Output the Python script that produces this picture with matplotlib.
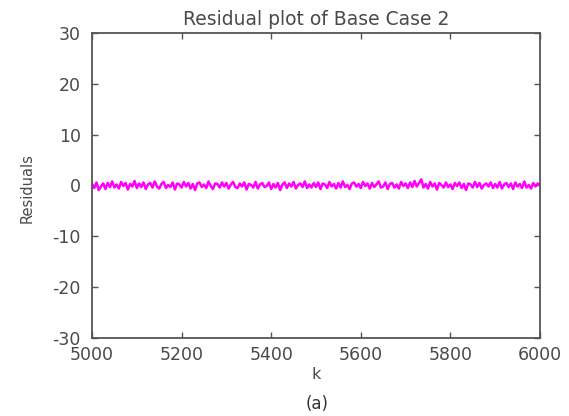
import numpy as np
import matplotlib.pyplot as plt

# residuals, one every 5 samples
k_start, k_stop, k_step = 5000, 6000, 5
residuals = [
    0.3, -0.5, 0.6, -0.9, -0.2, 0.4, -0.7, 0.5, -0.3, 0.8, -0.4, 0.2, -0.6, 0.7, -0.1, 0.5, -0.8, 0.3, -0.2, 0.9,
    -0.5, 0.4, -0.3, 0.6, -0.7, 0.2, 0.5, -0.4, 0.8, -0.2, -0.6, 0.3, 0.7, -0.5, 0.1, -0.3, 0.6, -0.8, 0.4, 0.2,
    -0.4, 0.7, -0.2, 0.5, -0.6, 0.3, -0.9, 0.4, 0.6, -0.3, 0.2, -0.5, 0.8, -0.1, -0.7, 0.4, 0.3, -0.4, 0.6, -0.2,
    0.5, -0.6, 0.2, 0.7, -0.3, -0.5, 0.4, -0.2, 0.6, -0.8, 0.3, 0.1, -0.4, 0.7, -0.6, 0.2, 0.5, -0.3, -0.1, 0.6,
    -0.7, 0.3, -0.4, 0.5, -0.9, 0.2, 0.6, -0.5, 0.4, -0.2, 0.7, -0.6, 0.1, 0.4, -0.3, 0.8, -0.5, 0.2, -0.4, 0.5,
    -0.3, 0.6, -0.7, 0.4, 0.2, -0.5, 0.7, -0.2, 0.3, -0.6, 0.5, -0.4, 0.8, -0.3, 0.1, -0.7, 0.4, 0.6, -0.2, 0.3,
    -0.5, 0.7, -0.1, 0.4, -0.6, 0.5, -0.3, 0.2, 0.8, -0.4, -0.2, 0.6, -0.7, 0.3, 0.5, -0.4, 0.2, -0.6, 0.7, -0.1,
    0.4, -0.5, 0.6, -0.3, 0.9, -0.2, 0.5, 1.2, -0.4, 0.3, -0.6, 0.7, -0.2, 0.4, -0.8, 0.5, 0.1, -0.4, 0.6, -0.3,
    0.2, -0.7, 0.5, -0.1, 0.6, -0.5, 0.3, -0.9, 0.4, 0.2, -0.4, 0.7, -0.3, 0.5, -0.6, 0.1, 0.4, -0.2, 0.6, -0.5,
    0.3, -0.4, 0.7, -0.6, 0.2, 0.5, -0.3, 0.4, -0.7, 0.6, -0.2, 0.3, -0.5, 0.8, -0.4, 0.1, -0.6, 0.5, -0.2, 0.4,
    0.1,
]
x_ticks = [5000, 5200, 5400, 5600, 5800, 6000]
y_ticks = [-30, -20, -10, 0, 10, 20, 30]

k = np.arange(k_start, k_stop + 1, k_step)

plt.rcParams['font.family'] = ['DejaVu Sans']
plt.rcParams['axes.unicode_minus'] = False
axis_col = '#555555'
text_col = '#4a4a4a'

fig = plt.figure(figsize=(5.69, 4.16), dpi=100)
ax = fig.add_axes([0.1617, 0.1875, 0.7873, 0.7332])

ax.plot(k, residuals, color='#ff00ff', lw=1.8)

ax.set_xlim(5000, 6000)
ax.set_ylim(-30, 30)
ax.set_xticks(x_ticks)
ax.set_yticks(y_ticks)
ax.tick_params(direction='in', length=4, width=1, colors=axis_col,
               labelcolor=text_col, labelsize=12.5, top=True, right=True)
ax.tick_params(axis='x', pad=6)
ax.tick_params(axis='y', pad=8)
for s in ax.spines.values():
    s.set_color(axis_col)
    s.set_linewidth(1.3)

ax.set_title('Residual plot of Base Case 2', fontsize=13.5, color=text_col, pad=6)
ax.set_xlabel('k', fontsize=11.5, color=text_col, labelpad=2)
ax.set_ylabel('Residuals', fontsize=10.5, color=text_col)
ax.yaxis.set_label_coords(-0.128, 0.49)

fig.text(0.557, 0.03, '(a)', fontsize=12, color='#333333', ha='center', va='center')

fig.savefig('out.png', dpi=100)
